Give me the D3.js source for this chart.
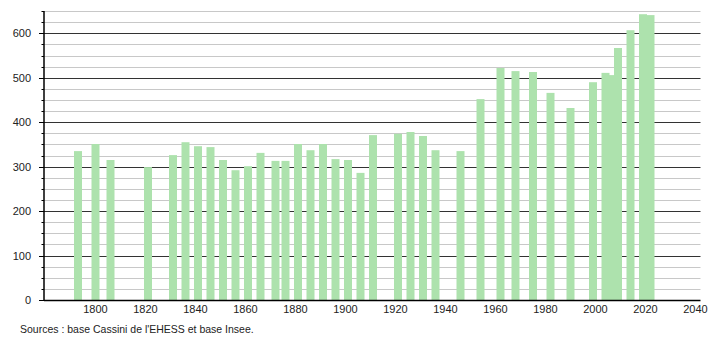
<!DOCTYPE html>
<html><head><meta charset="utf-8">
<script src="https://cdn.jsdelivr.net/npm/d3@7"></script>
<style>body{margin:0;background:#fff}svg{display:block}</style>
</head><body>
<svg id="c" width="710" height="340"></svg>
<script>
const years = [1793,1800,1806,1821,1831,1836,1841,1846,1851,1856,1861,1866,1872,1876,1881,1886,1891,1896,1901,1906,1911,1921,1926,1931,1936,1946,1954,1962,1968,1975,1982,1990,1999,2004,2006,2009,2014,2019,2022];
const population = [335,351,315,299,326,355,346,344,315,292,301,331,313,313,351,337,351,317,315,286,371,374,378,369,337,335,452,522,515,513,466,432,490,511,506,567,607,643,641];
const yTickLabels = [0,100,200,300,400,500,600];
const xTickLabels = [1800,1820,1840,1860,1880,1900,1920,1940,1960,1980,2000,2020,2040];
const sourceText = "Sources : base Cassini de l'EHESS et base Insee.";

const svg = d3.select("#c");
const x0 = 1779.4, x1 = 2042;
const x = d3.scaleLinear().domain([x0, x1]).range([44, 700.5]);
const y = d3.scaleLinear().domain([0, 650]).range([300, 11.1]);
const font = "'Liberation Sans', Arial, sans-serif";

// grid
const minor = d3.range(0, 651, 25);
svg.append("g").selectAll("line").data(minor.filter(v => v % 100 !== 0)).join("line")
  .attr("x1", x(x0)).attr("x2", x(x1))
  .attr("y1", d => Math.round(y(d)) + 0.5).attr("y2", d => Math.round(y(d)) + 0.5)
  .attr("stroke", "#c8c8c8").attr("stroke-width", 1);
svg.append("g").selectAll("line").data(yTickLabels.filter(v => v > 0)).join("line")
  .attr("x1", x(x0)).attr("x2", x(x1))
  .attr("y1", d => Math.round(y(d)) + 0.5).attr("y2", d => Math.round(y(d)) + 0.5)
  .attr("stroke", "#333").attr("stroke-width", 1);

// bars
const bw = x(x0 + 3.2) - x(x0);
svg.append("g").selectAll("rect").data(years).join("rect")
  .attr("x", (d) => x(d) - bw / 2)
  .attr("width", bw)
  .attr("y", (d, i) => y(population[i]))
  .attr("height", (d, i) => y(0) - y(population[i]))
  .attr("fill", "#ade2ad");

// y axis
const ya = svg.append("g").attr("transform", `translate(${x(x0)},0)`);
ya.append("line").attr("x1", 0).attr("x2", 0).attr("y1", y(650)).attr("y2", y(0))
  .attr("stroke", "#000").attr("stroke-width", 1.5);
ya.selectAll("line.mn").data(minor).join("line").attr("class", "mn")
  .attr("x1", d => d % 100 === 0 ? -5 : -2.5).attr("x2", 0)
  .attr("y1", d => Math.round(y(d)) + 0.5).attr("y2", d => Math.round(y(d)) + 0.5)
  .attr("stroke", "#000").attr("stroke-width", 1);
ya.selectAll("text").data(yTickLabels).join("text")
  .attr("x", -13).attr("y", d => y(d) + 4)
  .attr("text-anchor", "end").attr("font-family", font).attr("font-size", 11)
  .attr("fill", "#222").text(d => d);

// x axis
svg.append("line").attr("x1", x(x0)).attr("x2", x(x1))
  .attr("y1", y(0) + 0.5).attr("y2", y(0) + 0.5).attr("stroke", "#000").attr("stroke-width", 1.5);
svg.append("g").selectAll("text").data(xTickLabels).join("text")
  .attr("x", d => x(d)).attr("y", 313)
  .attr("text-anchor", "middle").attr("font-family", font).attr("font-size", 11)
  .attr("fill", "#222").text(d => d);

svg.append("text").attr("x", 20).attr("y", 333)
  .attr("font-family", font).attr("font-size", 10.5).attr("fill", "#222")
  .text(sourceText);
</script>
</body></html>
